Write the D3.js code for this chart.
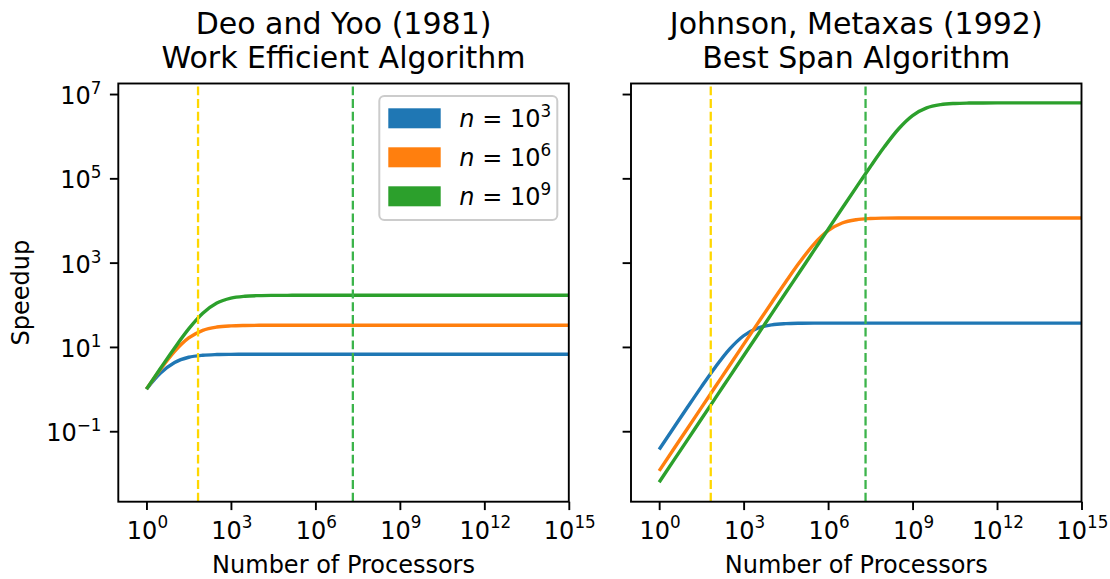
<!DOCTYPE html>
<html><head><meta charset="utf-8">
<script src="https://cdn.jsdelivr.net/npm/d3@7"></script>
<style>
body{margin:0;background:#fff}
svg{display:block}
text{font-family:"DejaVu Sans",sans-serif;fill:#000;white-space:pre}
</style></head>
<body><svg id="c" width="1110" height="579"></svg>
<script>
// ---------- data ----------
const procExp = [0,0.5,1,1.5,2,2.5,3,3.5,4,4.5,5,5.5,6,6.5,7,7.5,8,8.5,9,9.5,10,10.5,11,11.5,12,12.5,13,13.5,14,14.5,15];
const seriesNames = ["n = 10^3","n = 10^6","n = 10^9"];
const seriesExp = ["3","6","9"];
const seriesColors = ["#1f77b4","#ff7f0e","#2ca02c"];
const panelTitles = [["Deo and Yoo (1981)","Work Efficient Algorithm"],["Johnson, Metaxas (1992)","Best Span Algorithm"]];
const xTickExp = [0,3,6,9,12,15];
const yTickExp = [-1,1,3,5,7];
const refLines = [{p:68, color:"#ffd700"},{p:2.14e7, color:"#3cb44b"}];

// Deo and Yoo speedups
const dyN3 = [1.000,2.392,4.273,5.687,6.351,6.595,6.676,6.702,6.710,6.713,6.714,6.714,6.714,6.714,6.714,6.714,6.714,6.714,6.714,6.714,6.714,6.714,6.714,6.714,6.714,6.714,6.714,6.714,6.714,6.714,6.714];
const dyN6 = [1.000,2.966,7.840,16.32,24.81,29.69,31.66,32.34,32.56,32.63,32.65,32.66,32.66,32.66,32.66,32.66,32.66,32.66,32.66,32.66,32.66,32.66,32.66,32.66,32.66,32.66,32.66,32.66,32.66,32.66,32.66];
const dyN9 = [1.000,3.122,9.491,26.74,62.91,109.9,143.9,159.5,165.1,167.0,167.6,167.8,167.9,167.9,167.9,167.9,167.9,167.9,167.9,167.9,167.9,167.9,167.9,167.9,167.9,167.9,167.9,167.9,167.9,167.9,167.9];
// Johnson, Metaxas speedups
const jmN3 = [0.0368,0.1161,0.3645,1.129,3.347,8.844,18.41,27.97,33.47,35.68,36.45,36.70,36.78,36.80,36.81,36.81,36.81,36.81,36.81,36.81,36.81,36.81,36.81,36.81,36.81,36.81,36.81,36.81,36.81,36.81,36.81];
const jmN6 = [0.01148,0.03631,0.1148,0.3631,1.148,3.630,11.47,36.19,113.7,352.0,1044,2759,5741,8723,10438,11130,11368,11446,11470,11478,11481,11482,11482,11482,11482,11482,11482,11482,11482,11482,11482];
const jmN9 = [0.006166,0.01950,0.06166,0.1950,0.6166,1.950,6.166,19.50,61.66,195.0,616.5,1949,6160,19437,61050,189009,560545,1481394,3083000,4684600,5605500,5977000,6105000,6146600,6159800,6164050,6165400,6165800,6165940,6165980,6166000];

const panelSeries = [[dyN3,dyN6,dyN9],[jmN3,jmN6,jmN9]];

// ---------- layout ----------
const svg = d3.select("#c");
const Y0 = 83.5, Y1 = 501.7;
const panels = [{x0:118.3,x1:568.8},{x0:631,x1:1081.5}];
const TICK = 24, TITLE = 30;
const y = d3.scaleLog().domain([Math.pow(10,-2.672), Math.pow(10,7.25)]).range([Y1, Y0]);

function supLabel(sel, base, exp, size){
  sel.text(null);
  sel.append("tspan").text(base);
  sel.append("tspan").attr("font-size", size*0.7).attr("dy", -size*0.42).text(exp);
}

panels.forEach((pn, i) => {
  const x = d3.scaleLog().domain([0.1, 1e15]).range([pn.x0, pn.x1]);
  const g = svg.append("g");

  const line = d3.line().x((d,j)=>x(Math.pow(10,procExp[j]))).y(d=>y(d)).curve(d3.curveMonotoneX);
  const clipId = "clip"+i;
  svg.append("clipPath").attr("id",clipId).append("rect")
    .attr("x",pn.x0).attr("y",Y0).attr("width",pn.x1-pn.x0).attr("height",Y1-Y0);
  const plot = g.append("g").attr("clip-path",`url(#${clipId})`);
  panelSeries[i].forEach((vals,k)=>{
    plot.append("path").attr("d", line(vals)).attr("fill","none")
      .attr("stroke", seriesColors[k]).attr("stroke-width",3.4)
      .attr("stroke-linejoin","round").attr("stroke-linecap","butt");
  });
  refLines.forEach(r=>{
    plot.append("line").attr("x1",x(r.p)).attr("x2",x(r.p)).attr("y1",Y1).attr("y2",Y0)
      .attr("stroke",r.color).attr("stroke-width",2.3).attr("stroke-dasharray","8.9,3.8");
  });

  // x axis
  const xa = g.append("g").attr("transform",`translate(0,${Y1})`)
    .call(d3.axisBottom(x).tickValues(xTickExp.map(e=>Math.pow(10,e))).tickSize(8.4).tickPadding(8.4).tickFormat(""));
  xa.select(".domain").remove();
  xa.selectAll(".tick line").attr("stroke","#000").attr("stroke-width",1.9);
  xa.selectAll(".tick text").remove();
  xTickExp.forEach(e=>{
    const t = g.append("text").attr("x", x(Math.pow(10,e))+1).attr("y", 538.5)
      .attr("text-anchor","middle").attr("font-size",TICK);
    supLabel(t,"10",String(e),TICK);
  });

  // y axis
  const ya = g.append("g").attr("transform",`translate(${pn.x0},0)`)
    .call(d3.axisLeft(y).tickValues(yTickExp.map(e=>Math.pow(10,e))).tickSize(8.4).tickFormat(""));
  ya.select(".domain").remove();
  ya.selectAll(".tick line").attr("stroke","#000").attr("stroke-width",1.9);
  ya.selectAll(".tick text").remove();
  if(i===0){
    yTickExp.forEach(e=>{
      const t = g.append("text").attr("x", pn.x0-16.8).attr("y", y(Math.pow(10,e))+10)
        .attr("text-anchor","end").attr("font-size",TICK);
      supLabel(t,"10",String(e).replace("-","\u2212"),TICK);
    });
    g.append("text").attr("transform",`translate(29,${(Y0+Y1)/2}) rotate(-90)`)
      .attr("text-anchor","middle").attr("font-size",TICK).text("Speedup");
  }

  // spines
  g.append("rect").attr("x",pn.x0).attr("y",Y0).attr("width",pn.x1-pn.x0).attr("height",Y1-Y0)
    .attr("fill","none").attr("stroke","#000").attr("stroke-width",1.9);

  // x label
  g.append("text").attr("x",(pn.x0+pn.x1)/2).attr("y",572.5).attr("text-anchor","middle")
    .attr("font-size",TICK).text("Number of Processors");

  // titles
  panelTitles[i].forEach((tl,k)=>{
    g.append("text").attr("x",(pn.x0+pn.x1)/2).attr("y",34+k*33.6).attr("text-anchor","middle")
      .attr("font-size",TITLE).text(tl);
  });
});

// legend (left panel)
const LF = 24;
const lg = svg.append("g");
lg.append("rect").attr("x",379.3).attr("y",96).attr("width",178).attr("height",124).attr("rx",5)
  .attr("fill","#fff").attr("fill-opacity",0.8).attr("stroke","#cccccc").attr("stroke-width",2);
seriesNames.forEach((nm,k)=>{
  const cy = 118.3 + k*39;
  lg.append("rect").attr("x",388.3).attr("y",cy-10).attr("width",52.4).attr("height",20).attr("fill",seriesColors[k]);
  const t = lg.append("text").attr("x",459.3).attr("y",cy+8.5).attr("font-size",LF);
  t.append("tspan").attr("font-style","italic").text("n");
  t.append("tspan").text(" = 10");
  t.append("tspan").attr("font-size",LF*0.7).attr("dy",-LF*0.42).text(seriesExp[k]);
});
</script></body></html>
